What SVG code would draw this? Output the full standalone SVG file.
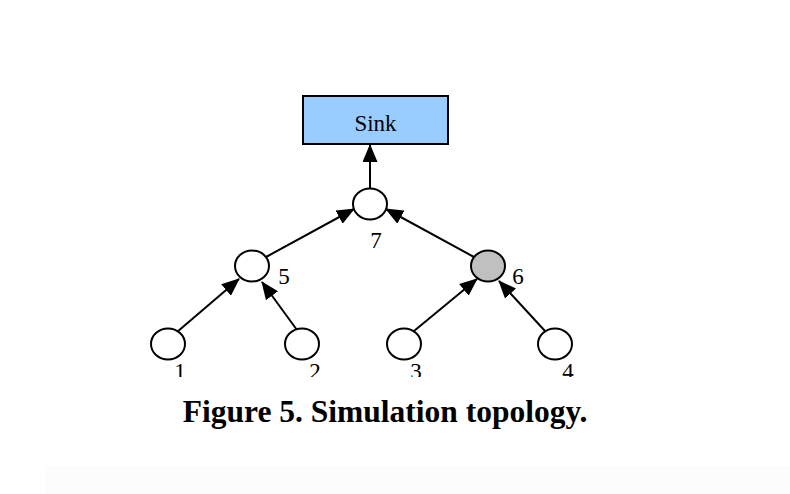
<svg xmlns="http://www.w3.org/2000/svg" width="790" height="494" viewBox="0 0 790 494">
<style>
.n{fill:#fff;stroke:#000;stroke-width:2}
.lbl{font-family:"Liberation Serif",serif;font-size:23px;fill:#000}
.e{stroke:#000;stroke-width:2;fill:none;marker-end:url(#ah)}
</style>
<defs>
<marker id="ah" viewBox="0 0 18 15" refX="17" refY="7.5" markerWidth="18" markerHeight="15" markerUnits="userSpaceOnUse" orient="auto">
<path d="M0,0 L18,7.5 L0,15 Z" fill="#000"/>
</marker>
<clipPath id="cb"><rect x="0" y="0" width="790" height="377"/></clipPath>
</defs>
<rect x="0" y="0" width="790" height="494" fill="#fff"/>
<rect x="45" y="466" width="745" height="28" fill="#fcfcfc"/>
<g id="connectors">
<line class="e" x1="370" y1="188" x2="370" y2="145"/>
<line class="e" x1="266" y1="257" x2="354" y2="209"/>
<line class="e" x1="474" y1="257" x2="386" y2="209"/>
<line class="e" x1="177" y1="332" x2="239" y2="279"/>
<line class="e" x1="297" y1="330" x2="262" y2="282"/>
<line class="e" x1="414" y1="331" x2="477" y2="279"/>
<line class="e" x1="545" y1="331" x2="499" y2="281"/>
</g>
<g id="sink">
<rect x="303" y="96" width="145" height="48" fill="#99ccff" stroke="#000" stroke-width="2"/>
<text class="lbl" x="375.5" y="131" text-anchor="middle">Sink</text>
</g>
<g id="node7">
<ellipse class="n" cx="370" cy="204" rx="17" ry="15.5"/>
<text class="lbl" x="376" y="248" text-anchor="middle">7</text>
</g>
<g id="node5">
<ellipse class="n" cx="252" cy="266" rx="17" ry="15.5"/>
<text class="lbl" x="284" y="284" text-anchor="middle">5</text>
</g>
<g id="node6">
<ellipse class="n" cx="488" cy="266" rx="17" ry="15.5" style="fill:#c0c0c0"/>
<text class="lbl" x="518" y="284" text-anchor="middle">6</text>
</g>
<g id="node1">
<ellipse class="n" cx="168" cy="344" rx="17" ry="15.5"/>
<text class="lbl" x="180" y="379" text-anchor="middle" clip-path="url(#cb)">1</text>
</g>
<g id="node2">
<ellipse class="n" cx="302" cy="344" rx="17" ry="15.5"/>
<text class="lbl" x="315" y="379" text-anchor="middle" clip-path="url(#cb)">2</text>
</g>
<g id="node3">
<ellipse class="n" cx="404" cy="344" rx="17" ry="15.5"/>
<text class="lbl" x="416" y="379" text-anchor="middle" clip-path="url(#cb)">3</text>
</g>
<g id="node4">
<ellipse class="n" cx="555" cy="344" rx="17" ry="15.5"/>
<text class="lbl" x="568" y="379" text-anchor="middle" clip-path="url(#cb)">4</text>
</g>
<text x="385" y="422" text-anchor="middle" font-family="Liberation Serif,serif" font-weight="bold" font-size="31.5" fill="#000">Figure 5. Simulation topology.</text>
</svg>
